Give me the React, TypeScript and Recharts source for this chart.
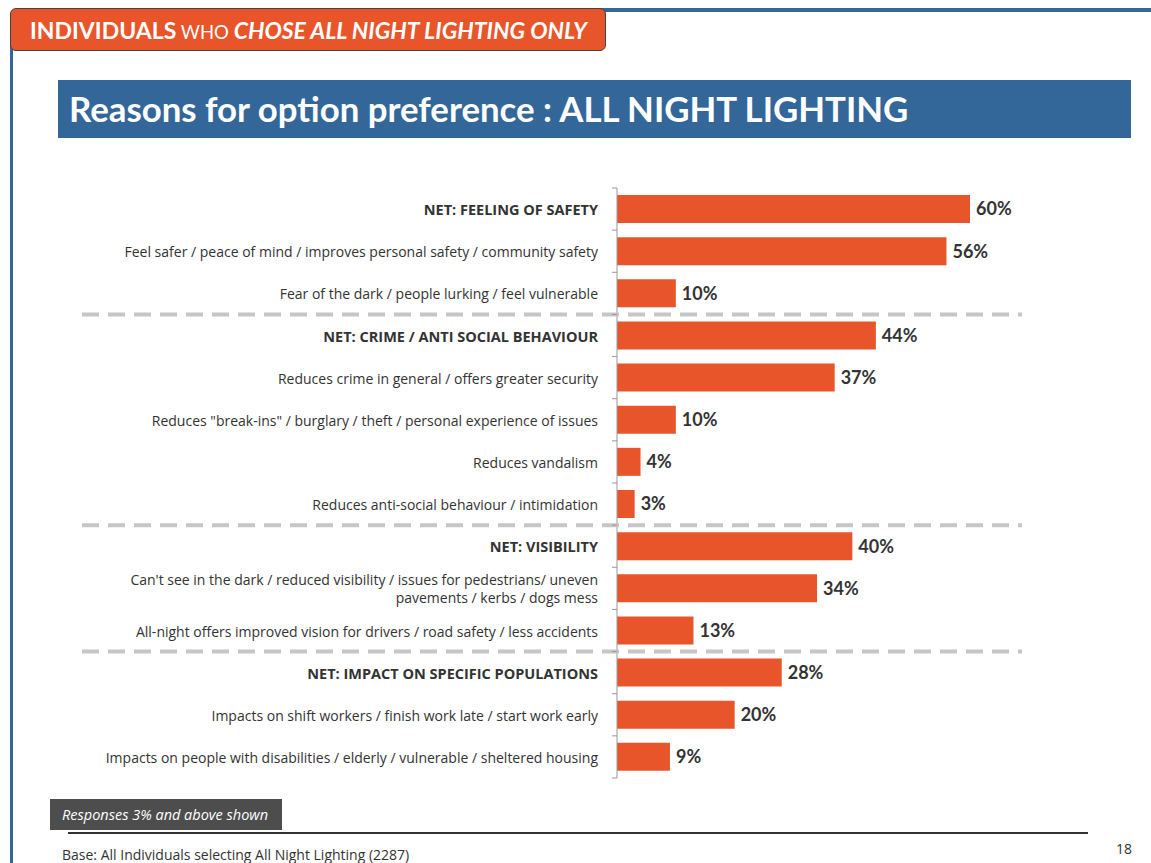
import React from "react";
import { Bar, BarChart, LabelList, XAxis, YAxis } from "recharts";

const categories = [
  "NET: FEELING OF SAFETY",
  "Feel safer / peace of mind / improves personal safety / community safety",
  "Fear of the dark / people lurking / feel vulnerable",
  "NET: CRIME / ANTI SOCIAL BEHAVIOUR",
  "Reduces crime in general / offers greater security",
  'Reduces "break-ins" / burglary / theft / personal experience of issues',
  "Reduces vandalism",
  "Reduces anti-social behaviour / intimidation",
  "NET: VISIBILITY",
  "Can't see in the dark / reduced visibility / issues for pedestrians/ uneven\npavements / kerbs / dogs mess",
  "All-night offers improved vision for drivers / road safety / less accidents",
  "NET: IMPACT ON SPECIFIC POPULATIONS",
  "Impacts on shift workers / finish work late / start work early",
  "Impacts on people with disabilities / elderly / vulnerable / sheltered housing",
];

const values = [60, 56, 10, 44, 37, 10, 4, 3, 40, 34, 13, 28, 20, 9];

const data = categories.map((name, i) => ({ name, value: values[i] }));

const W = 1151;
const H = 863;
const PLOT_TOP = 188;
const PLOT_BOTTOM = 778;
const AXIS_X = 617;
const BAND = (PLOT_BOTTOM - PLOT_TOP) / categories.length;

const ORANGE = "#E8552A";
const BLUE = "#33679A";
const FONT = "Lato, 'Noto Sans', sans-serif";
const TEXT_FONT = "'Open Sans', 'Noto Sans', sans-serif";

function CategoryTick(props: any) {
  const { x, y, payload, index } = props;
  const label: string = payload.value;
  const isNet = label.startsWith("NET:");
  const lines = label.split("\n");
  const top = y - BAND / 2;
  return (
    <g>
      {isNet && index > 0 && (
        <line
          x1={82}
          x2={1022}
          y1={top}
          y2={top}
          stroke="#C6C6C6"
          strokeWidth={4}
          strokeDasharray="17 9"
        />
      )}
      <line x1={AXIS_X - 5} x2={AXIS_X} y1={top} y2={top} stroke="#999" />
      {index === categories.length - 1 && (
        <line x1={AXIS_X - 5} x2={AXIS_X} y1={top + BAND} y2={top + BAND} stroke="#999" />
      )}
      <text
        x={598}
        y={y - ((lines.length - 1) * 18) / 2}
        textAnchor="end"
        dominantBaseline="central"
        fontFamily={TEXT_FONT}
        fontSize={isNet ? 14.5 : 14}
        fontWeight={isNet ? 700 : 400}
        fill="#333"
      >
        {lines.map((l, i) => (
          <tspan key={i} x={598} dy={i === 0 ? 0 : 18}>
            {l}
          </tspan>
        ))}
      </text>
    </g>
  );
}

export default function App() {
  return (
    <div
      style={{
        position: "absolute",
        left: 0,
        top: 0,
        width: W,
        height: H,
        background: "#fff",
        fontFamily: FONT,
        overflow: "hidden",
      }}
    >
      {/* frame lines */}
      <div style={{ position: "absolute", left: 600, top: 8, width: 551, height: 4, background: BLUE }} />
      <div style={{ position: "absolute", left: 10, top: 40, width: 3, height: 823, background: BLUE }} />

      {/* orange tag */}
      <div
        style={{
          position: "absolute",
          left: 10,
          top: 8,
          width: 596,
          height: 43,
          background: ORANGE,
          border: "1px solid #444",
          borderRadius: 6,
          boxSizing: "border-box",
          color: "#fff",
          fontSize: 23,
          lineHeight: "43px",
          paddingLeft: 19,
          whiteSpace: "nowrap",
        }}
      >
        <span style={{ fontWeight: 700 }}>INDIVIDUALS</span>
        <span style={{ fontSize: 18.5 }}> WHO </span>
        <span style={{ fontWeight: 700, fontStyle: "italic" }}>CHOSE ALL NIGHT LIGHTING ONLY</span>
      </div>

      {/* title bar */}
      <div
        style={{
          position: "absolute",
          left: 58,
          top: 80,
          width: 1073,
          height: 58,
          background: BLUE,
          color: "#fff",
          fontWeight: 700,
          fontSize: 34.8,
          lineHeight: "58px",
          paddingLeft: 11,
          boxSizing: "border-box",
          whiteSpace: "nowrap",
        }}
      >
        Reasons for option preference : ALL NIGHT LIGHTING
      </div>

      <div style={{ position: "absolute", left: 0, top: 0 }}>
        <BarChart
          width={W}
          height={H}
          data={data}
          layout="vertical"
          margin={{ top: PLOT_TOP, bottom: H - PLOT_BOTTOM, left: 0, right: W - 970 }}
        >
          <XAxis type="number" domain={[0, 60]} hide />
          <YAxis
            type="category"
            dataKey="name"
            width={AXIS_X}
            axisLine={{ stroke: "#999" }}
            tickLine={false}
            tick={<CategoryTick />}
            interval={0}
          />
          <Bar dataKey="value" fill={ORANGE} barSize={28} isAnimationActive={false}>
            <LabelList
              dataKey="value"
              position="right"
              offset={6}
              formatter={(v: any) => `${v}%`}
              fill="#333"
              fontSize={18}
              fontWeight={700}
              fontFamily={FONT}
            />
          </Bar>
        </BarChart>
      </div>

      {/* footer */}
      <div
        style={{
          position: "absolute",
          left: 50,
          top: 799,
          width: 232,
          height: 31,
          background: "#4D4D4D",
          color: "#fff",
          fontStyle: "italic",
          fontFamily: TEXT_FONT,
          fontSize: 14.5,
          lineHeight: "31px",
          paddingLeft: 12,
          boxSizing: "border-box",
          whiteSpace: "nowrap",
        }}
      >
        Responses 3% and above shown
      </div>
      <div style={{ position: "absolute", left: 68, top: 832, width: 1020, height: 2, background: "#333" }} />
      <div style={{ position: "absolute", left: 62, top: 845, fontFamily: TEXT_FONT, fontSize: 14, color: "#333" }}>
        Base: All Individuals selecting All Night Lighting (2287)
      </div>
      <div style={{ position: "absolute", left: 1116, top: 839, fontFamily: TEXT_FONT, fontSize: 14, color: "#333" }}>
        18
      </div>
    </div>
  );
}
